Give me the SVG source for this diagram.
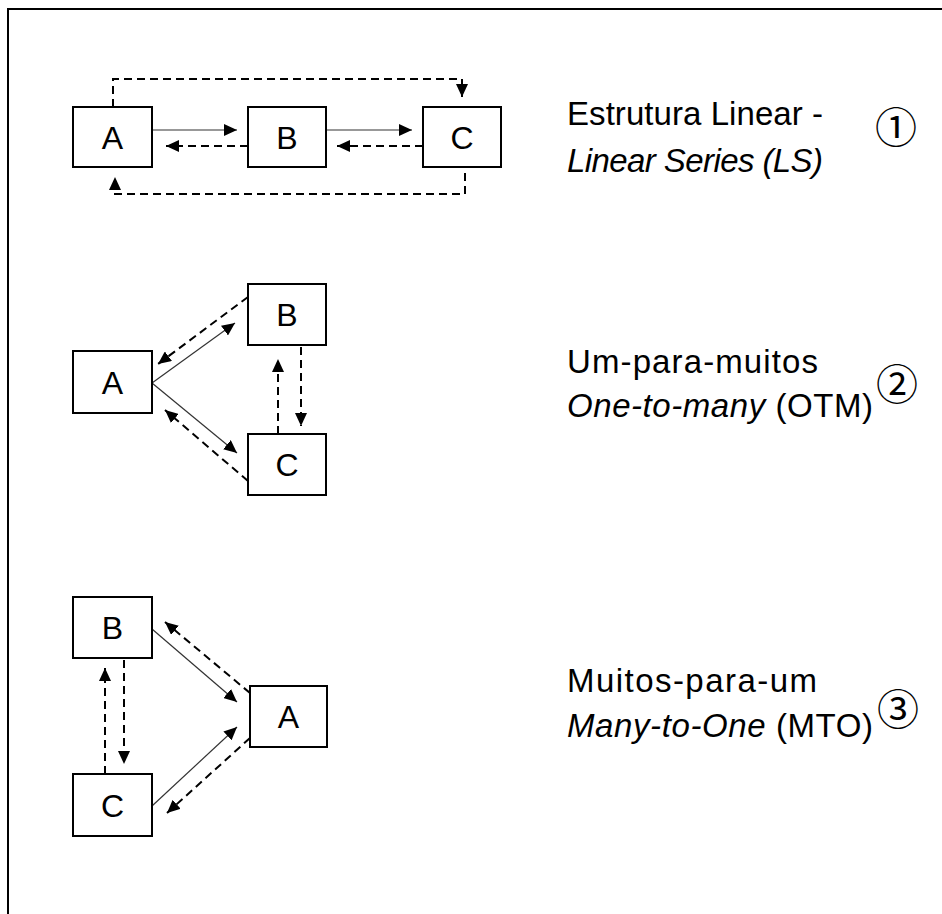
<svg xmlns="http://www.w3.org/2000/svg" width="942" height="914" viewBox="0 0 942 914">
<style>
.box{fill:#fff;stroke:#000;stroke-width:2}
.lbl{font-family:"Liberation Sans",Arial,sans-serif;font-size:32px;fill:#000;text-anchor:middle}
.txt{font-family:"Liberation Sans",Arial,sans-serif;font-size:33px;fill:#000}
.it{font-style:italic}
.num{font-family:"Noto Sans CJK SC","DejaVu Sans",sans-serif;font-size:42px;fill:#000;text-anchor:middle}
.sol{fill:none;stroke:#333;stroke-width:1.2;marker-end:url(#ah)}
.dsh{fill:none;stroke:#000;stroke-width:2;stroke-dasharray:8 5;marker-end:url(#ah)}
</style>
<defs>
<marker id="ah" markerUnits="userSpaceOnUse" markerWidth="13" markerHeight="12" viewBox="0 0 13 12" refX="13" refY="6" orient="auto">
<path d="M0,0 L13,6 L0,12 z" fill="#000"/>
</marker>
</defs>
<rect width="942" height="914" fill="#fff"/>
<path d="M8,914 L8,9 L942,9" fill="none" stroke="#000" stroke-width="2"/>

<g id="connectors">
<path class="sol" d="M152,130 L237,130"/>
<path class="sol" d="M326,130 L412,130"/>
<path class="dsh" d="M248,146 L166,146"/>
<path class="dsh" d="M423,146 L337,146"/>
<path class="dsh" d="M113,107 L113,79 L462,79 L462,97"/>
<path class="dsh" d="M465,173 L465,194 L115,194 L115,177"/>
<path class="sol" d="M152,383 L235,323"/>
<path class="sol" d="M152,383 L237,453"/>
<path class="dsh" d="M248,297 L158,364"/>
<path class="dsh" d="M248,481 L165,410"/>
<path class="dsh" d="M278,434 L278,359"/>
<path class="dsh" d="M301,347 L301,426"/>
<path class="sol" d="M152,629 L237,702"/>
<path class="sol" d="M152,806 L237,727"/>
<path class="dsh" d="M250,693 L165,622"/>
<path class="dsh" d="M250,738 L167,813"/>
<path class="dsh" d="M124,660 L124,764"/>
<path class="dsh" d="M105,774 L105,668"/>
</g>

<g id="s1-A"><rect class="box" x="73" y="107" width="79" height="60"/><text class="lbl" x="112.5" y="149">A</text></g>
<g id="s1-B"><rect class="box" x="248" y="107" width="78" height="60"/><text class="lbl" x="287" y="149">B</text></g>
<g id="s1-C"><rect class="box" x="423" y="107" width="78" height="60"/><text class="lbl" x="462" y="149">C</text></g>

<g id="s2-A"><rect class="box" x="73" y="351" width="79" height="62"/><text class="lbl" x="112.5" y="394">A</text></g>
<g id="s2-B"><rect class="box" x="248" y="284" width="78" height="61"/><text class="lbl" x="287" y="326">B</text></g>
<g id="s2-C"><rect class="box" x="248" y="434" width="78" height="61"/><text class="lbl" x="287" y="476">C</text></g>

<g id="s3-B"><rect class="box" x="73" y="597" width="79" height="61"/><text class="lbl" x="112.5" y="639">B</text></g>
<g id="s3-A"><rect class="box" x="250" y="686" width="77" height="61"/><text class="lbl" x="288.5" y="728">A</text></g>
<g id="s3-C"><rect class="box" x="73" y="774" width="79" height="62"/><text class="lbl" x="112.5" y="817">C</text></g>

<g id="label1">
<text class="txt" x="567" y="125" textLength="256" lengthAdjust="spacing">Estrutura Linear -</text>
<text class="txt it" x="567" y="172" textLength="256" lengthAdjust="spacing">Linear Series (LS)</text>
<text class="num" x="896" y="143">①</text>
</g>
<g id="label2">
<text class="txt" x="567" y="373" textLength="251" lengthAdjust="spacing">Um-para-muitos</text>
<text class="txt" x="567" y="417" textLength="306" lengthAdjust="spacing"><tspan class="it">One-to-many</tspan> (OTM)</text>
<text class="num" x="897" y="400">②</text>
</g>
<g id="label3">
<text class="txt" x="567" y="692" textLength="250" lengthAdjust="spacing">Muitos-para-um</text>
<text class="txt" x="567" y="737" textLength="306" lengthAdjust="spacing"><tspan class="it">Many-to-One</tspan> (MTO)</text>
<text class="num" x="898" y="725">③</text>
</g>
</svg>
